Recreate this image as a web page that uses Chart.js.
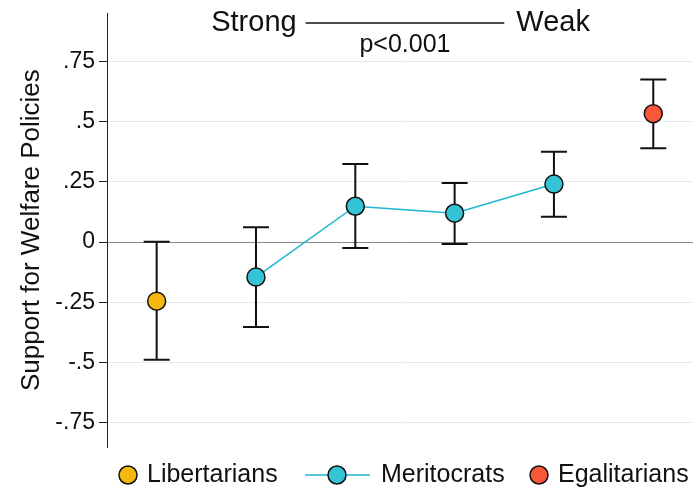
<!DOCTYPE html>
<html lang="en">
<head>
    <meta charset="UTF-8">
    <title>Support for Welfare Policies</title>
    <script src="https://cdn.jsdelivr.net/npm/chart.js"></script>
    <style>
        html, body { margin: 0; padding: 0; background: #fff; overflow: hidden; }
        #wrap { width: 693px; height: 491px; position: relative; }
        canvas { display: block; }
    </style>
</head>
<body>
<div id="wrap"><canvas id="welfareChart"></canvas></div>
<script>
    // group positions along the (hidden) x axis
    const libX = [1];
    const libY = [-0.245];
    const libLo = [-0.488];
    const libHi = [0.002];

    const meritX = [2, 3, 4, 5];
    const meritY = [-0.145, 0.149, 0.12, 0.241];
    const meritLo = [-0.352, -0.024, -0.008, 0.105];
    const meritHi = [0.062, 0.324, 0.245, 0.375];

    const egalX = [6];
    const egalY = [0.533];
    const egalLo = [0.39];
    const egalHi = [0.675];

    const tickValues = [0.75, 0.5, 0.25, 0, -0.25, -0.5, -0.75];
    const tickLabels = ['.75', '.5', '.25', '0', '-.25', '-.5', '-.75'];

    const FONT = "'Liberation Sans', Arial, sans-serif";
    Chart.defaults.font.family = FONT;

    function pts(xs, ys) {
        return xs.map((x, i) => ({ x: x, y: ys[i] }));
    }

    // whiskers with caps, drawn under the points
    const errorBars = {
        id: 'errorBars',
        beforeDatasetsDraw(chart) {
            const ctx = chart.ctx;
            const xs = chart.scales.x, ys = chart.scales.y;
            ctx.save();
            ctx.strokeStyle = '#111';
            ctx.lineWidth = 2;
            chart.data.datasets.forEach(ds => {
                ds.data.forEach((p, i) => {
                    const px = xs.getPixelForValue(p.x);
                    const top = ys.getPixelForValue(ds.errHi[i]);
                    const bot = ys.getPixelForValue(ds.errLo[i]);
                    ctx.beginPath();
                    ctx.moveTo(px, top); ctx.lineTo(px, bot);
                    ctx.moveTo(px - 13, top); ctx.lineTo(px + 13, top);
                    ctx.moveTo(px - 13, bot); ctx.lineTo(px + 13, bot);
                    ctx.stroke();
                });
            });
            ctx.restore();
        }
    };

    // "Strong ---- Weak" bracket plus p value, and the legend row at the bottom
    const extras = {
        id: 'extras',
        afterDraw(chart) {
            const ctx = chart.ctx;
            const xs = chart.scales.x;
            const x1 = xs.getPixelForValue(2.5), x2 = xs.getPixelForValue(4.5);
            ctx.save();
            ctx.fillStyle = '#111';
            ctx.strokeStyle = '#111';
            ctx.textBaseline = 'middle';
            ctx.font = '29px ' + FONT;
            ctx.lineWidth = 1.3;
            ctx.beginPath();
            ctx.moveTo(x1, 23); ctx.lineTo(x2, 23);
            ctx.stroke();
            ctx.textAlign = 'right';
            ctx.fillText('Strong', x1 - 9, 23);
            ctx.textAlign = 'left';
            ctx.fillText('Weak', x2 + 12, 23);
            ctx.font = '25px ' + FONT;
            ctx.textAlign = 'center';
            ctx.fillText('p<0.001', (x1 + x2) / 2, 45);

            // legend
            const ly = 475;
            ctx.font = '25px ' + FONT;
            ctx.textAlign = 'left';
            const dot = (x, color) => {
                ctx.beginPath();
                ctx.arc(x, ly, 9, 0, Math.PI * 2);
                ctx.fillStyle = color;
                ctx.fill();
                ctx.lineWidth = 1.5;
                ctx.strokeStyle = '#111';
                ctx.stroke();
            };
            const sets = chart.data.datasets;
            dot(128, sets[0].backgroundColor);
            ctx.fillStyle = '#111';
            ctx.fillText(sets[0].label, 147, ly);

            ctx.beginPath();
            ctx.moveTo(305, ly); ctx.lineTo(370, ly);
            ctx.strokeStyle = sets[1].borderColor;
            ctx.lineWidth = 1.5;
            ctx.stroke();
            dot(337, sets[1].backgroundColor);
            ctx.fillStyle = '#111';
            ctx.fillText(sets[1].label, 381, ly);

            dot(539, sets[2].backgroundColor);
            ctx.fillStyle = '#111';
            ctx.fillText(sets[2].label, 558, ly);
            ctx.restore();
        }
    };

    const pointStyle = {
        pointRadius: 9,
        pointHoverRadius: 9,
        pointBorderColor: '#111',
        pointBorderWidth: 1.5
    };

    new Chart(document.getElementById('welfareChart'), {
        type: 'scatter',
        data: {
            datasets: [
                Object.assign({
                    label: 'Libertarians',
                    data: pts(libX, libY),
                    errLo: libLo, errHi: libHi,
                    backgroundColor: '#f5b80f',
                    pointBackgroundColor: '#f5b80f'
                }, pointStyle),
                Object.assign({
                    label: 'Meritocrats',
                    data: pts(meritX, meritY),
                    errLo: meritLo, errHi: meritHi,
                    showLine: true,
                    borderColor: '#1cb6d2',
                    borderWidth: 1.5,
                    backgroundColor: '#35c3d6',
                    pointBackgroundColor: '#35c3d6'
                }, pointStyle),
                Object.assign({
                    label: 'Egalitarians',
                    data: pts(egalX, egalY),
                    errLo: egalLo, errHi: egalHi,
                    backgroundColor: '#f9573a',
                    pointBackgroundColor: '#f9573a'
                }, pointStyle)
            ]
        },
        options: {
            responsive: true,
            maintainAspectRatio: false,
            animation: false,
            layout: { autoPadding: false, padding: { left: 16, top: 12, bottom: 44, right: 0 } },
            plugins: {
                legend: { display: false },
                tooltip: { enabled: false }
            },
            scales: {
                x: { type: 'linear', min: 0.5, max: 6.4, display: false },
                y: {
                    min: -0.85,
                    max: 0.95,
                    afterBuildTicks: axis => {
                        axis.ticks = tickValues.map(v => ({ value: v }));
                    },
                    afterFit: axis => { axis.width = 91; },
                    ticks: {
                        callback: v => tickLabels[tickValues.indexOf(v)],
                        font: { size: 23, lineHeight: 0.8 },
                        color: '#111',
                        padding: 4
                    },
                    grid: {
                        color: c => (c.tick && c.tick.value === 0) ? '#8a8a8a' : '#e3ebef',
                        tickColor: '#222',
                        tickLength: 8,
                        lineWidth: 1
                    },
                    border: { color: '#222', width: 1 },
                    title: {
                        display: true,
                        text: 'Support for Welfare Policies',
                        font: { size: 26 },
                        color: '#111',
                        padding: { top: 0, bottom: 0 }
                    }
                }
            }
        },
        plugins: [errorBars, extras]
    });
</script>
</body>
</html>
